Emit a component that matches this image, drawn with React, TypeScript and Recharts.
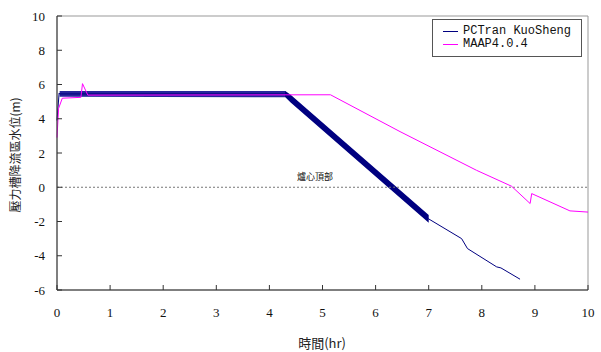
import React from 'react';
import { ComposedChart, Line, Area, XAxis, YAxis, ReferenceLine, ReferenceArea } from 'recharts';

// PCTran KuoSheng, thin trace (start, band centre, tail after the band)
const pctTime = [0, 0.04, 0.05, 4.3, 7.0, 7.62, 7.73, 8.28, 8.36, 8.72];
const pctLevel = [3.9, 5.5, 5.45, 5.45, -1.85, -3.0, -3.58, -4.65, -4.71, -5.37];

// PCTran oscillation envelope (drawn as the thick band)
const bandTime = [0.05, 4.3, 4.4, 7.0];
const bandLow = [5.28, 5.25, 4.95, -2.08];
const bandHigh = [5.62, 5.62, 5.4, -1.62];

// MAAP4.0.4
const maapTime = [0, 0.03, 0.1, 0.45, 0.48, 0.58, 5.15, 6.46, 7.9, 8.56, 8.91, 8.94, 9.66, 10];
const maapLevel = [2.9, 4.6, 5.2, 5.25, 6.05, 5.38, 5.4, 3.25, 0.99, 0.06, -0.95, -0.37, -1.38, -1.45];

const xTicks = [0, 1, 2, 3, 4, 5, 6, 7, 8, 9, 10];
const yTicks = [-6, -4, -2, 0, 2, 4, 6, 8, 10];

const series = [
  { name: 'PCTran KuoSheng', color: '#000080' },
  { name: 'MAAP4.0.4', color: '#FF00FF' },
];

const pctData = pctTime.map((t, i) => ({ t, v: pctLevel[i] }));
const bandData = bandTime.map((t, i) => ({ t, r: [bandLow[i], bandHigh[i]] }));
const maapData = maapTime.map((t, i) => ({ t, v: maapLevel[i] }));

const tickStyle = { fontSize: 13, fontFamily: '"Liberation Serif", serif', fill: '#111' };

// legend box sits over the top right of the plot
const LegendBox = () => (
  <div
    style={{
      position: 'absolute',
      left: 432,
      top: 19,
      width: 148,
      height: 36,
      border: '1px solid #555',
      background: '#fff',
      fontFamily: '"Liberation Mono", monospace',
      fontSize: 12,
      color: '#111',
    }}
  >
    {series.map((s, i) => (
      <div key={s.name} style={{ display: 'flex', alignItems: 'center', height: 13, marginTop: i === 0 ? 5 : 0 }}>
        <div style={{ width: 15, height: 1, background: s.color, marginLeft: 10, marginRight: 5 }} />
        <span style={{ lineHeight: '13px', whiteSpace: 'nowrap' }}>{s.name}</span>
      </div>
    ))}
  </div>
);

const YLabel = () => (
  <text
    x={14}
    y={155}
    transform="rotate(-90 14 155)"
    textAnchor="middle"
    dominantBaseline="central"
    fontSize={12}
    fontFamily='"Noto Sans CJK TC", sans-serif'
    fill="#222"
  >
    壓力槽降流區水位(m)
  </text>
);

const XLabel = () => (
  <text x={322} y={342} textAnchor="middle" dominantBaseline="central" fontSize={13} fontFamily='"Noto Sans CJK TC", sans-serif' fill="#222">
    時間(hr)
  </text>
);

const CoreLabel = (props: any) => {
  const vb = props.viewBox || { x: 0, y: 0 };
  return (
    <text x={vb.x + 258} y={vb.y - 7} textAnchor="middle" fontSize={9} fontFamily='"Noto Sans CJK TC", sans-serif' fill="#111">
      爐心頂部
    </text>
  );
};

export default function App() {
  return (
    <div style={{ position: 'absolute', left: 0, top: 0, width: 601, height: 352, background: '#fff' }}>
      <ComposedChart width={601} height={352} margin={{ top: 16, right: 13, bottom: 0, left: 0 }}>
        <defs>
          <linearGradient id="bandFill" x1="0" y1="0" x2="1" y2="0">
            <stop offset="0" stopColor="#26269C" />
            <stop offset="0.61" stopColor="#26269C" />
            <stop offset="0.61" stopColor="#000080" />
            <stop offset="1" stopColor="#000080" />
          </linearGradient>
        </defs>
        <XAxis
          dataKey="t"
          type="number"
          domain={[0, 10]}
          ticks={xTicks}
          allowDuplicatedCategory={false}
          height={62}
          tickSize={-5}
          tickMargin={23}
          tick={tickStyle}
          axisLine={{ stroke: '#333' }}
          tickLine={{ stroke: '#333' }}
          label={<XLabel />}
        />
        <YAxis
          type="number"
          domain={[-6, 10]}
          ticks={yTicks}
          width={57}
          tickSize={-5}
          tickMargin={17}
          tick={tickStyle}
          axisLine={{ stroke: '#333' }}
          tickLine={{ stroke: '#333' }}
          label={<YLabel />}
        />
        <ReferenceArea x1={0} x2={10} y1={-6} y2={10} fill="none" stroke="#999" />
        <ReferenceLine y={0} stroke="#777" strokeDasharray="2 2" label={<CoreLabel />} />
        <Area
          data={bandData}
          dataKey="r"
          type="linear"
          stroke="none"
          fill="url(#bandFill)"
          fillOpacity={1}
          isAnimationActive={false}
          dot={false}
          activeDot={false}
          legendType="none"
        />
        <Line
          data={pctData}
          dataKey="v"
          name={series[0].name}
          type="linear"
          stroke={series[0].color}
          strokeWidth={1}
          dot={false}
          activeDot={false}
          isAnimationActive={false}
        />
        <Line
          data={maapData}
          dataKey="v"
          name={series[1].name}
          type="linear"
          stroke={series[1].color}
          strokeWidth={1}
          dot={false}
          activeDot={false}
          isAnimationActive={false}
        />
      </ComposedChart>
      <LegendBox />
    </div>
  );
}
